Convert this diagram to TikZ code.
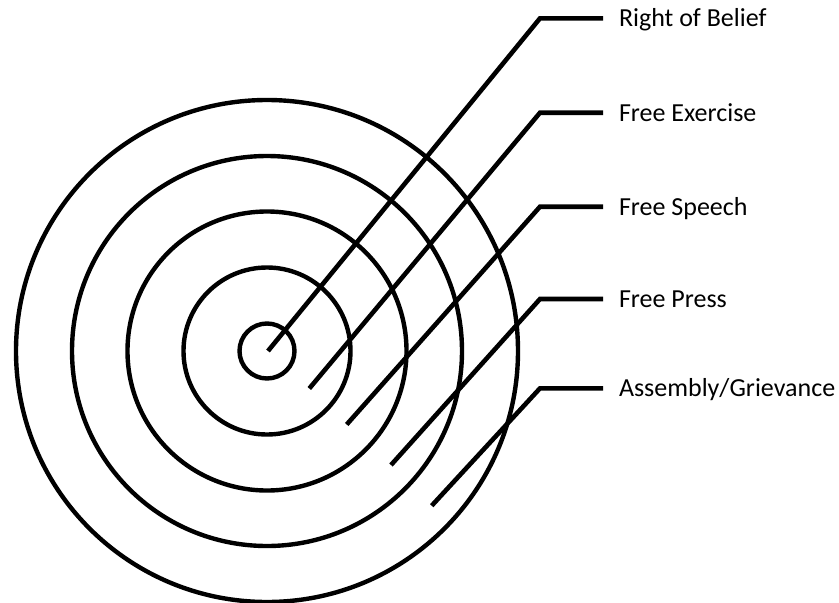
\documentclass[tikz,border=0pt]{standalone}
\usepackage{fontspec}
\setmainfont{Carlito}
\begin{document}
\begin{tikzpicture}[x=1pt,y=-1pt,
  ring/.style={draw=black,line width=4.4pt},
  leader/.style={draw=black,line width=4.6pt,line cap=butt,line join=miter},
  lab/.style={anchor=west,inner xsep=16pt,inner ysep=0pt,outer sep=0pt,
    text height=17pt,text depth=0pt,font=\fontsize{26}{31}\selectfont}]
\useasboundingbox (0,0) rectangle (839,603);
\coordinate (c) at (267,351);
\foreach \r in {27.5,83.5,139.5,195,251} \draw[ring] (c) circle[radius=\r];
% label nodes
\node[lab] (t1) at (603,18.3) {Right of Belief};
\node[lab] (t2) at (603,112.7) {Free Exercise};
\node[lab] (t3) at (603,206.7) {Free Speech};
\node[lab] (t4) at (603,299) {Free Press};
\node[lab] (t5) at (603,388.3) {Assembly/Grievance};
% leader start and corner points
\coordinate (s1) at (268,351);
\coordinate (s2) at (309.3,388.5);
\coordinate (s3) at (346.7,424.5);
\coordinate (s4) at (391,465);
\coordinate (s5) at (431.7,505.7);
\coordinate (k1) at (540,18.3);
\coordinate (k2) at (540,112.7);
\coordinate (k3) at (540,206.7);
\coordinate (k4) at (540,299);
\coordinate (k5) at (540,388.3);
\draw[leader] (s1) -- (k1) -- (t1.west);
\draw[leader] (s2) -- (k2) -- (t2.west);
\draw[leader] (s3) -- (k3) -- (t3.west);
\draw[leader] (s4) -- (k4) -- (t4.west);
\draw[leader] (s5) -- (k5) -- (t5.west);
\end{tikzpicture}
\end{document}
